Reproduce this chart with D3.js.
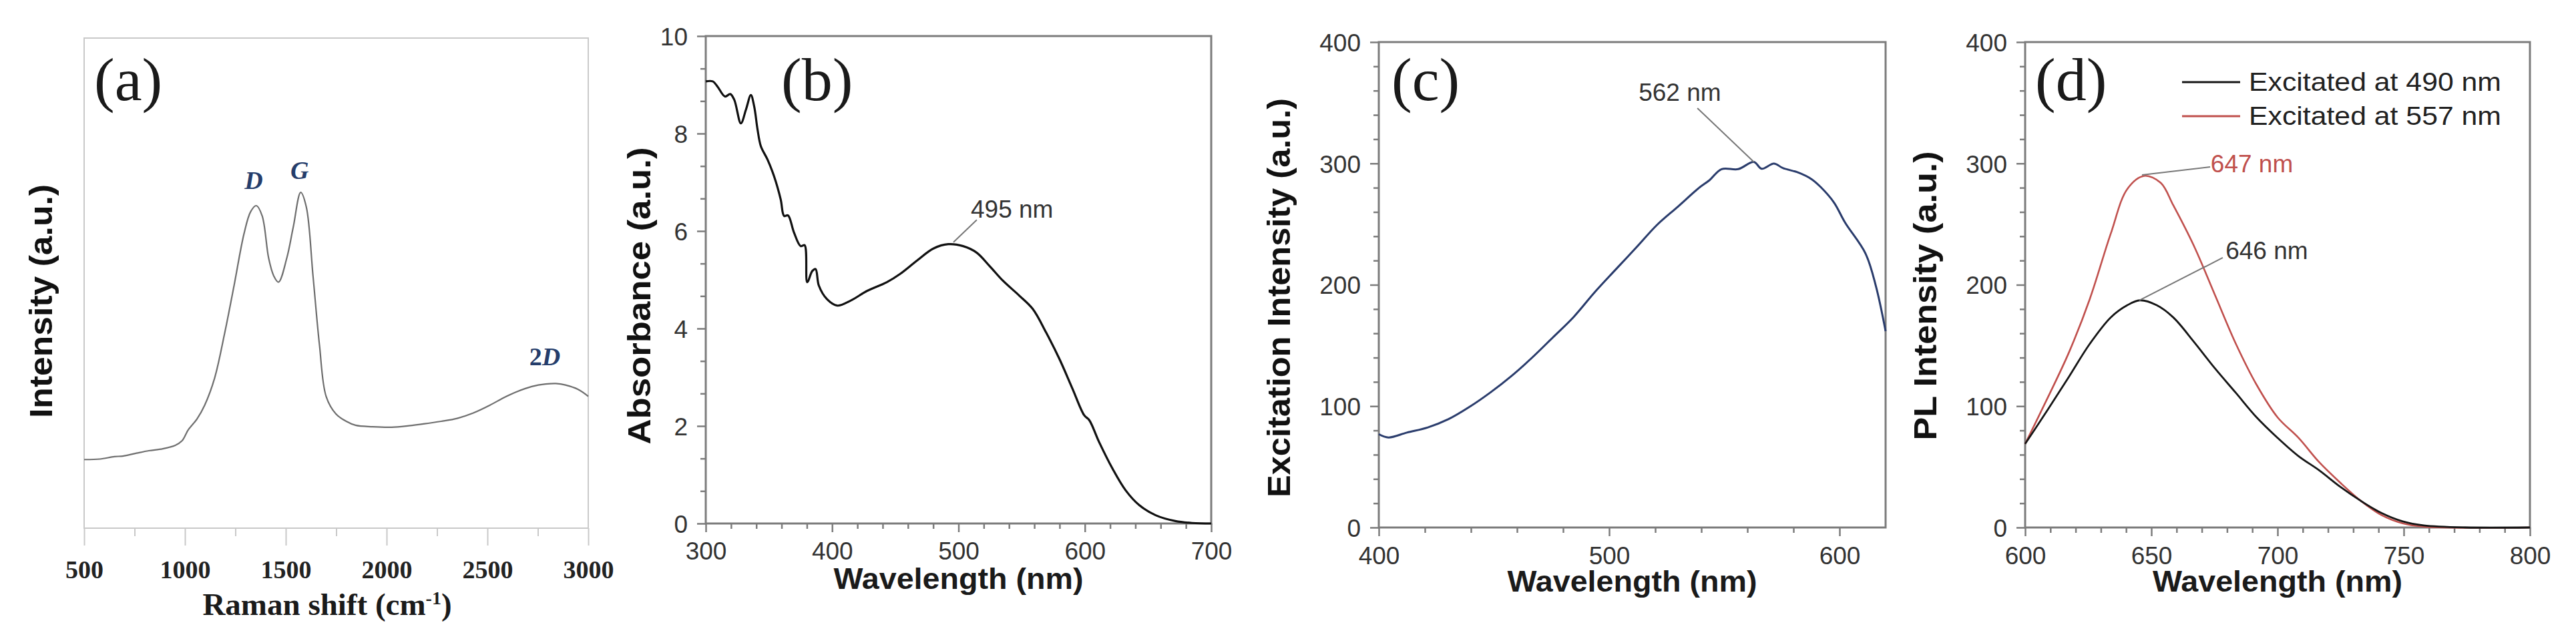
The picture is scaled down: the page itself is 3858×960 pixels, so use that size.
<!DOCTYPE html>
<html>
<head>
<meta charset="utf-8">
<script src="https://cdn.jsdelivr.net/npm/d3@7"></script>
<style>
  body { margin: 0; background: #fff; }
  svg { display: block; }
</style>
</head>
<body>
<svg id="chart" width="3858" height="960"></svg>
<script>
// DATA ------------------------------
// (a) Raman spectrum, intensity in arbitrary units
const ramanShift = [500, 578, 650, 692, 760, 821, 890, 952, 985, 1017, 1060, 1098, 1147, 1196, 1244, 1293, 1326, 1354, 1383, 1415, 1440, 1464, 1505, 1537, 1574, 1602, 1635, 1667, 1700, 1749, 1800, 1846, 1930, 2025, 2110, 2188, 2270, 2350, 2430, 2513, 2580, 2643, 2720, 2789, 2840, 2887, 2950, 3000];
const ramanIntensity = [14.0, 14.1, 14.6, 14.7, 15.3, 15.8, 16.2, 16.9, 17.8, 20.1, 22.3, 25.1, 30.6, 39.6, 49.6, 60.1, 64.6, 65.8, 63.7, 55.1, 51.5, 50.2, 55.1, 61.4, 68.5, 65.5, 51.5, 37.4, 26.9, 23.3, 21.8, 21.0, 20.7, 20.6, 20.9, 21.3, 21.8, 22.4, 23.5, 25.1, 26.6, 27.8, 28.9, 29.4, 29.5, 29.2, 28.3, 26.9];
const ramanTicks = [500, 1000, 1500, 2000, 2500, 3000];

// (b) absorbance
const absWavelength = [300, 305.5, 309.4, 315.2, 319.4, 322.6, 327.8, 331.8, 335.7, 338.3, 341, 343.6, 348.8, 354.1, 359.3, 362, 365.1, 369.8, 375.1, 378.2, 380.3, 384.3, 386.9, 389.5, 396, 404, 414.5, 427.6, 443.3, 453.8, 467, 480.1, 491.9, 503.7, 514.2, 524.7, 535.2, 548.3, 558.8, 569.3, 579.8, 590.3, 599.5, 603.5, 611.3, 621.8, 632.3, 642.9, 656, 671.7, 685, 700];
const absorbance = [9.07, 9.07, 8.96, 8.76, 8.81, 8.69, 8.21, 8.49, 8.79, 8.56, 8.08, 7.74, 7.47, 7.12, 6.65, 6.31, 6.32, 5.97, 5.69, 5.71, 4.95, 5.18, 5.22, 4.88, 4.60, 4.47, 4.57, 4.77, 4.95, 5.12, 5.39, 5.64, 5.73, 5.69, 5.56, 5.28, 4.98, 4.67, 4.40, 3.92, 3.38, 2.76, 2.22, 2.12, 1.67, 1.13, 0.68, 0.38, 0.17, 0.05, 0.01, 0.00];
const absXTicks = [300, 400, 500, 600, 700];
const absYTicks = [0, 2, 4, 6, 8, 10];

// (c) excitation spectrum
const excWavelength = [400, 404.2, 412.2, 421.3, 430.3, 439.4, 448.4, 457.5, 466.5, 475.6, 484.6, 493.7, 502.7, 511.8, 520.8, 529.9, 538.9, 543.5, 548.8, 556, 562.8, 566.2, 571.5, 575.4, 582.1, 587.9, 591.8, 597.6, 602.4, 611.3, 615.8, 620];
const excIntensity = [76.9, 74.2, 78.2, 82.5, 89.3, 99.4, 111.2, 124.7, 139.9, 156.7, 173.5, 193.8, 212.3, 230.8, 249.4, 264.5, 279.7, 286.1, 295.3, 295.3, 301.2, 295.6, 299.9, 296.2, 292.5, 287.0, 280.6, 267.8, 251.3, 225.7, 198.8, 161.8];
const excXTicks = [400, 500, 600];
const excYTicks = [0, 100, 200, 300, 400];

// (d) PL spectra
const pl490Wavelength = [600, 609.1, 617.4, 625.6, 633.9, 640.5, 645.5, 652.1, 658.7, 666.9, 675.2, 683.5, 691.7, 700, 708.3, 716.5, 724.8, 733.1, 741.3, 749.6, 757.9, 774.4, 800];
const pl490 = [68.9, 97.5, 124.4, 151.3, 173.1, 183.2, 187.2, 183.2, 173.1, 152.9, 131.1, 110.9, 90.8, 73.9, 58.8, 47.1, 33.6, 21.8, 11.8, 5.0, 1.7, 0, 0];
const pl557Wavelength = [600, 609.1, 617.4, 625.6, 633.9, 640.5, 647.1, 653.7, 658.7, 666.9, 675.2, 683.5, 691.7, 700, 708.3, 716.5, 724.8, 733.1, 741.3, 749.6, 757.9, 800];
const pl557 = [68.9, 107.6, 144.5, 188.2, 242, 279, 289.7, 284, 265.5, 231.9, 191.6, 151.3, 117.6, 90.8, 73.9, 53.8, 37, 21.8, 10.1, 3.4, 0.7, 0];
const plXTicks = [600, 650, 700, 750, 800];
const plYTicks = [0, 100, 200, 300, 400];
const plSeries = ["Excitated at 490 nm", "Excitated at 557 nm"];

// CHART INIT ------------------------------
const svg = d3.select("#chart");
const sans = "'Liberation Sans', Arial, Helvetica, sans-serif";
const serif = "'Liberation Serif', 'Times New Roman', serif";

const zip = (xs, ys) => xs.map((v, i) => [v, ys[i]]);

// draws frame, ticks and labels of one panel, returns its scales
function makePanel(p) {
    const x = d3.scaleLinear().domain(p.xDomain).range([p.left, p.right]);
    const y = d3.scaleLinear().domain(p.yDomain).range([p.bottom, p.top]);
    const g = svg.append("g");

    // frame
    g.append("rect")
        .attr("x", p.left).attr("y", p.top)
        .attr("width", p.right - p.left).attr("height", p.bottom - p.top)
        .attr("fill", "none")
        .attr("stroke", p.color)
        .attr("stroke-width", p.lineWidth);

    // x minor ticks
    g.append("g")
        .attr("transform", `translate(0,${p.bottom})`)
        .call(d3.axisBottom(x).tickValues(p.xMinor).tickSize(p.minorLen).tickFormat(""))
        .call(s => s.select(".domain").remove())
        .selectAll("line").attr("stroke", p.color).attr("stroke-width", p.tickWidth);

    // x major ticks + labels
    const xg = g.append("g")
        .attr("transform", `translate(0,${p.bottom})`)
        .call(d3.axisBottom(x).tickValues(p.xTicks).tickSize(p.majorLen).tickFormat(d3.format("d")))
        .call(s => s.select(".domain").remove());
    xg.selectAll("line").attr("stroke", p.color).attr("stroke-width", p.tickWidth);
    xg.selectAll("text")
        .attr("y", p.xLabelY).attr("dy", null)
        .attr("font-family", p.tickFont)
        .attr("font-weight", p.tickWeight)
        .attr("font-size", p.tickSize)
        .attr("fill", p.tickColor);

    if (p.yTicks) {
        g.append("g")
            .attr("transform", `translate(${p.left},0)`)
            .call(d3.axisLeft(y).tickValues(p.yMinor).tickSize(p.minorLen).tickFormat(""))
            .call(s => s.select(".domain").remove())
            .selectAll("line").attr("stroke", p.color).attr("stroke-width", p.tickWidth);

        const yg = g.append("g")
            .attr("transform", `translate(${p.left},0)`)
            .call(d3.axisLeft(y).tickValues(p.yTicks).tickSize(p.majorLen).tickPadding(14))
            .call(s => s.select(".domain").remove());
        yg.selectAll("line").attr("stroke", p.color).attr("stroke-width", p.tickWidth);
        yg.selectAll("text")
            .attr("dy", "0.36em")
            .attr("font-family", p.tickFont)
            .attr("font-size", p.tickSize)
            .attr("fill", p.tickColor);
    }

    // panel letter
    svg.append("text")
        .attr("x", p.letterX).attr("y", 150)
        .attr("font-family", serif)
        .attr("font-size", 92)
        .attr("fill", "#1a1a1a")
        .text(p.letter);

    // x title
    if (p.xTitle) {
        svg.append("text")
            .attr("x", (p.left + p.right) / 2).attr("y", p.xTitleY)
            .attr("text-anchor", "middle")
            .attr("font-family", sans)
            .attr("font-weight", "bold")
            .attr("font-size", 44)
            .attr("fill", "#1a1a1a")
            .attr("textLength", 374)
            .attr("lengthAdjust", "spacingAndGlyphs")
            .text(p.xTitle);
    }

    // y title
    svg.append("text")
        .attr("transform", `translate(${p.yTitleX},${p.yTitleMid}) rotate(-90)`)
        .attr("text-anchor", "middle")
        .attr("font-family", sans)
        .attr("font-weight", "bold")
        .attr("font-size", 48)
        .attr("fill", "#111")
        .attr("textLength", p.yTitleLen)
        .attr("lengthAdjust", "spacingAndGlyphs")
        .text(p.yTitle);

    return { x, y };
}

function minorBetween(majors, step) {
    const out = [];
    for (let i = 0; i < majors.length - 1; i++) {
        for (let v = majors[i] + step; v < majors[i + 1] - step / 2; v += step) out.push(v);
    }
    return out;
}

function drawCurve(sc, pts, color, width) {
    svg.append("path")
        .datum(pts)
        .attr("fill", "none")
        .attr("stroke", color)
        .attr("stroke-width", width)
        .attr("stroke-linejoin", "round")
        .attr("d", d3.line()
            .x(d => sc.x(d[0]))
            .y(d => sc.y(d[1]))
            .curve(d3.curveCatmullRom.alpha(0.5)));
}

function leader(sc, from, to) {
    svg.append("line")
        .attr("x1", sc.x(from[0])).attr("y1", sc.y(from[1]))
        .attr("x2", sc.x(to[0])).attr("y2", sc.y(to[1]))
        .attr("stroke", "#777")
        .attr("stroke-width", 2);
}

function note(sc, at, txt, color) {
    svg.append("text")
        .attr("x", sc.x(at[0])).attr("y", sc.y(at[1]))
        .attr("font-family", sans)
        .attr("font-size", 37)
        .attr("fill", color)
        .text(txt);
}

// (a) ------------------------------
const scA = makePanel({
    left: 126, right: 881, top: 57, bottom: 791,
    xDomain: [500, 3000], yDomain: [0, 100],
    xTicks: ramanTicks, xMinor: minorBetween(ramanTicks, 250),
    majorLen: 26, minorLen: 12,
    color: "#c9c9c9", lineWidth: 2, tickWidth: 2,
    tickFont: serif, tickWeight: "bold", tickSize: 38, tickColor: "#222",
    xLabelY: 75,
    letter: "(a)", letterX: 141,
    yTitle: "Intensity (a.u.)", yTitleX: 78, yTitleMid: 451, yTitleLen: 350
});

svg.append("text")
    .attr("x", 490).attr("y", 921)
    .attr("text-anchor", "middle")
    .attr("font-family", serif)
    .attr("font-weight", "bold")
    .attr("font-size", 47)
    .attr("fill", "#1a1a1a")
    .text("Raman shift (cm")
    .append("tspan").attr("dy", -16).attr("font-size", 28).text("-1")
    .select(function() { return this.parentNode; })
    .append("tspan").attr("dy", 16).text(")");

drawCurve(scA, zip(ramanShift, ramanIntensity), "#6e6e6e", 2.2);

const peakLabels = [["D", 1341, 69.2], ["G", 1569, 71.3]];
peakLabels.forEach(d => {
    svg.append("text")
        .attr("x", scA.x(d[1])).attr("y", scA.y(d[2]))
        .attr("text-anchor", "middle")
        .attr("font-family", serif)
        .attr("font-weight", "bold")
        .attr("font-style", "italic")
        .attr("font-size", 38)
        .attr("fill", "#253d6b")
        .text(d[0]);
});
svg.append("text")
    .attr("x", scA.x(2785)).attr("y", scA.y(33.2))
    .attr("text-anchor", "middle")
    .attr("font-family", serif)
    .attr("font-weight", "bold")
    .attr("font-size", 38)
    .attr("fill", "#253d6b")
    .text("2")
    .append("tspan").attr("font-style", "italic").text("D");

// (b) ------------------------------
const scB = makePanel({
    left: 1057, right: 1814, top: 54, bottom: 784,
    xDomain: [300, 700], yDomain: [0, 10],
    xTicks: absXTicks, xMinor: minorBetween(absXTicks, 20),
    yTicks: absYTicks, yMinor: minorBetween(absYTicks, 2 / 3),
    majorLen: 13, minorLen: 8,
    color: "#7c7c7c", lineWidth: 3, tickWidth: 2.5,
    tickFont: sans, tickWeight: "normal", tickSize: 37, tickColor: "#333",
    xLabelY: 54,
    letter: "(b)", letterX: 1170,
    xTitle: "Wavelength (nm)", xTitleY: 882,
    yTitle: "Absorbance (a.u.)", yTitleX: 974, yTitleMid: 443, yTitleLen: 445
});
drawCurve(scB, zip(absWavelength, absorbance), "#111", 3.2);
leader(scB, [514.5, 6.23], [496, 5.77]);
note(scB, [509.8, 6.27], "495 nm", "#333");

// (c) ------------------------------
const scC = makePanel({
    left: 2065, right: 2824, top: 63, bottom: 790,
    xDomain: [400, 620], yDomain: [0, 400],
    xTicks: excXTicks, xMinor: minorBetween([400, 500, 600, 620], 20),
    yTicks: excYTicks, yMinor: minorBetween(excYTicks, 20),
    majorLen: 13, minorLen: 8,
    color: "#7c7c7c", lineWidth: 3, tickWidth: 2.5,
    tickFont: sans, tickWeight: "normal", tickSize: 37, tickColor: "#333",
    xLabelY: 55,
    letter: "(c)", letterX: 2084,
    xTitle: "Wavelength (nm)", xTitleY: 886,
    yTitle: "Excitation Intensity (a.u.)", yTitleX: 1932, yTitleMid: 446, yTitleLen: 598
});
drawCurve(scC, zip(excWavelength, excIntensity), "#2a3c6c", 3);
leader(scC, [538.3, 345.5], [562.8, 301.2]);
note(scC, [512.8, 351.6], "562 nm", "#333");

// (d) ------------------------------
const scD = makePanel({
    left: 3033, right: 3789, top: 63, bottom: 790,
    xDomain: [600, 800], yDomain: [0, 400],
    xTicks: plXTicks, xMinor: minorBetween(plXTicks, 10),
    yTicks: plYTicks, yMinor: minorBetween(plYTicks, 20),
    majorLen: 13, minorLen: 8,
    color: "#7c7c7c", lineWidth: 3, tickWidth: 2.5,
    tickFont: sans, tickWeight: "normal", tickSize: 37, tickColor: "#333",
    xLabelY: 55,
    letter: "(d)", letterX: 3048,
    xTitle: "Wavelength (nm)", xTitleY: 886,
    yTitle: "PL Intensity (a.u.)", yTitleX: 2900, yTitleMid: 443, yTitleLen: 433
});
const plColors = ["#161616", "#c0504d"];
drawCurve(scD, zip(pl557Wavelength, pl557), plColors[1], 2.6);
drawCurve(scD, zip(pl490Wavelength, pl490), plColors[0], 2.8);
leader(scD, [673.3, 297.1], [646.3, 290.5]);
note(scD, [673.5, 292.7], "647 nm", plColors[1]);
leader(scD, [678.3, 222.3], [645.2, 187.1]);
note(scD, [679.4, 221.2], "646 nm", "#333");

// legend
const legend = svg.append("g");
plSeries.forEach((name, i) => {
    const ly = 123 + i * 51;
    legend.append("line")
        .attr("x1", 3268).attr("x2", 3355)
        .attr("y1", ly).attr("y2", ly)
        .attr("stroke", plColors[i])
        .attr("stroke-width", 3);
    legend.append("text")
        .attr("x", 3368).attr("y", ly + 13)
        .attr("font-family", sans)
        .attr("font-size", 38)
        .attr("fill", "#222")
        .attr("textLength", 378)
        .attr("lengthAdjust", "spacingAndGlyphs")
        .text(name);
});
</script>
</body>
</html>
